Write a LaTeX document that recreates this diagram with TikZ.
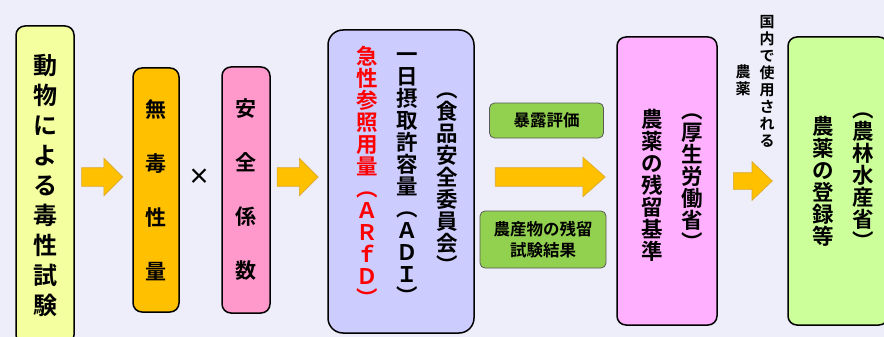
\documentclass[tikz,border=0pt]{standalone}
\usepackage{fontspec}
\newfontfamily\jpfont{Noto Sans CJK JP}[BoldFont={Noto Sans CJK JP Bold}]
\usetikzlibrary{shapes,arrows}
\definecolor{bgcol}{HTML}{EEEEFA}
\definecolor{animcol}{HTML}{F4FFA0}
\definecolor{noaelcol}{HTML}{FFC000}
\definecolor{sfcol}{HTML}{FF99CC}
\definecolor{adicol}{HTML}{CCCCFF}
\definecolor{mrlcol}{HTML}{FFB0FF}
\definecolor{regcol}{HTML}{CCFF99}
\definecolor{notecol}{HTML}{92D050}
\definecolor{arrowcol}{HTML}{FFC000}
\definecolor{arrowedge}{HTML}{D9A830}
\tikzstyle{block} = [rectangle, draw, line width=1.5pt, rounded corners=9pt, inner sep=0pt]
\tikzstyle{note} = [rectangle, draw=black!65, line width=0.8pt, fill=notecol,
    rounded corners=5pt, inner sep=0pt, align=center,
    font=\jpfont\bfseries\fontsize{16.5}{21}\selectfont]
\tikzstyle{fat} = [single arrow, draw=arrowedge, line width=0.6pt, fill=arrowcol,
    inner xsep=0pt, inner ysep=9pt, single arrow head extend=9.5pt, single arrow tip angle=90,
    minimum height=41pt]
\tikzstyle{vtext} = [inner sep=0pt, align=center,
    font=\jpfont\bfseries\fontsize{21.5}{22}\selectfont]

\begin{document}
\lineskiplimit=-20pt
\begin{tikzpicture}[x=1pt, y=1pt, node distance=50pt]
			\fill [bgcol] (0,0) rectangle (884,-337);
			\useasboundingbox (0,0) rectangle (884,-337);
			% Place boxes and arrows
			\node [block, fill=animcol, minimum width=58pt, minimum height=318pt, align=center,
			       font=\jpfont\bfseries\fontsize{24}{30}\selectfont] (anim) at (45,-185)
			      {動\\物\\に\\よ\\る\\毒\\性\\試\\験};
			\node [fat, right of=anim, node distance=52.5pt, yshift=8pt] (toNoael) {};
			\node [block, fill=noaelcol, minimum width=46pt, minimum height=244pt, align=center,
			       font=\jpfont\bfseries\fontsize{21}{54}\selectfont,
			       right of=toNoael, node distance=58.5pt, yshift=-13pt] (noael) {無\\毒\\性\\量};
			\node [right of=noael, node distance=43pt, yshift=13pt, inner sep=0pt,
			       font=\jpfont\bfseries\fontsize{22}{22}\selectfont] (times) {×};
			\node [block, fill=sfcol, minimum width=48pt, minimum height=246pt, align=center,
			       font=\jpfont\bfseries\fontsize{21}{54}\selectfont,
			       right of=times, node distance=47pt, yshift=-13pt] (sf) {安\\全\\係\\数};
			\node [fat, right of=sf, node distance=47pt, yshift=13pt] (toAdi) {};
			\node [block, fill=adicol, rounded corners=15pt, minimum width=146pt, minimum height=303pt,
			       right of=toAdi, node distance=108pt, yshift=-4.5pt] (adi) {};
			\node [fat, minimum height=110pt, single arrow head extend=10.5pt,
			       single arrow tip angle=83, right of=adi, node distance=144pt, yshift=4.5pt] (toMrl) {};
			\node [note, minimum width=114pt, minimum height=35pt, above of=toMrl,
			       node distance=56.5pt, xshift=1.5pt] (expo) {暴露評価};
			\node [note, minimum width=126pt, minimum height=57pt, below of=toMrl,
			       node distance=62.5pt, xshift=-2pt] (resid) {農産物の残留\\試験結果};
			\node [block, fill=mrlcol, minimum width=100pt, minimum height=288pt,
			       right of=toMrl, node distance=122pt, yshift=-4pt] (mrl) {};
			\node [fat, inner ysep=8pt, single arrow head extend=11pt, single arrow tip angle=87,
			       minimum height=39pt, right of=mrl, node distance=81.5pt] (toReg) {};
			\node [block, fill=regcol, minimum width=100pt, minimum height=288pt,
			       right of=toReg, node distance=89.5pt] (reg) {};
			% Vertical columns of text
			\node [vtext] (adiName) at ([xshift=6pt, yshift=2.5pt]adi.center)
			      {一\\日\\摂\\取\\許\\容\\量\\︵\\Ａ\\Ｄ\\Ｉ\\︶};
			\node [vtext, text=red, left of=adiName, node distance=40pt, yshift=3pt] (arfd)
			      {急\\性\\参\\照\\用\\量\\︵\\Ａ\\Ｒ\\ｆ\\Ｄ\\︶};
			\node [vtext, right of=adiName, node distance=40pt, yshift=-4pt] (fsc)
			      {︵\\食\\品\\安\\全\\委\\員\\会\\︶};
			\node [vtext] (mrlName) at ([xshift=-15pt, yshift=-4pt]mrl.center)
			      {農\\薬\\の\\残\\留\\基\\準};
			\node [vtext, right of=mrlName, node distance=40pt, yshift=3pt] (mhlw)
			      {︵\\厚\\生\\労\\働\\省\\︶};
			\node [vtext] (regName) at ([xshift=-15pt]reg.center)
			      {農\\薬\\の\\登\\録\\等};
			\node [vtext, right of=regName, node distance=40pt] (maff)
			      {︵\\農\\林\\水\\産\\省\\︶};
			% Label over the last arrow
			\node [vtext, font=\jpfont\bfseries\fontsize{15}{17}\selectfont, above of=toReg,
			       node distance=100pt, xshift=18.5pt] (used) {国\\内\\で\\使\\用\\さ\\れ\\る};
			\node [vtext, font=\jpfont\bfseries\fontsize{15}{17}\selectfont, left of=used,
			       node distance=24pt, yshift=1pt] (usedPest) {農\\薬};
	\end{tikzpicture}
\end{document}
